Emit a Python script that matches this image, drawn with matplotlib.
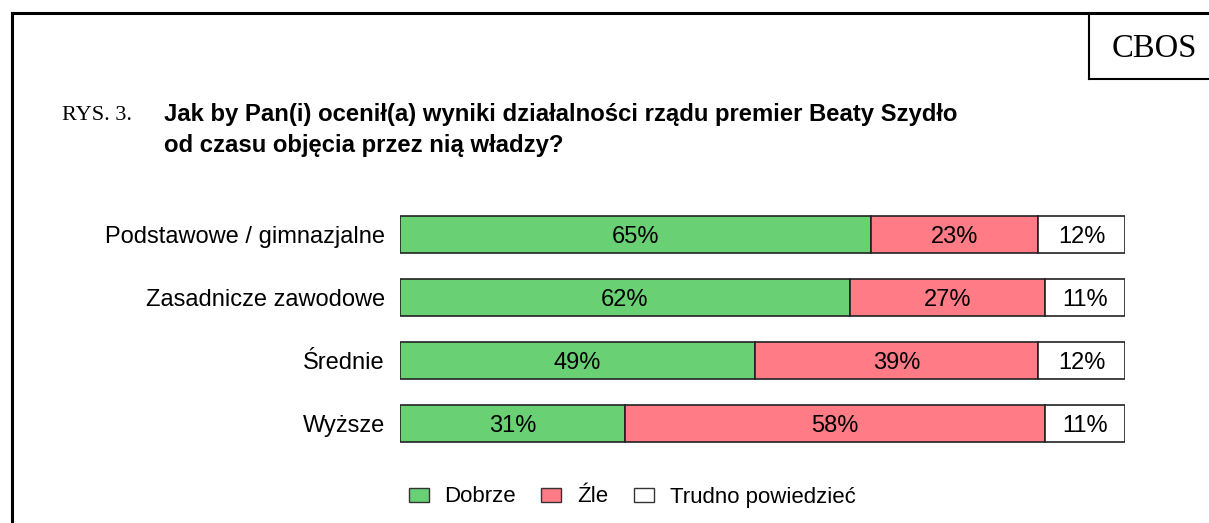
import matplotlib.pyplot as plt
from matplotlib.patches import Patch
from matplotlib.lines import Line2D
import numpy as np

categories = ['Podstawowe / gimnazjalne', 'Zasadnicze zawodowe', 'Średnie', 'Wyższe']
dobrze = [65, 62, 49, 31]
zle = [23, 27, 39, 58]
trudno = [12, 11, 12, 11]
series_names = ['Dobrze', 'Źle', 'Trudno powiedzieć']
colors = ['#69D174', '#FF7B86', '#FFFFFF']

W, H = 1209, 523
fig = plt.figure(figsize=(W / 100, H / 100), dpi=100)
sans = 'Liberation Sans'
serif = 'Liberation Serif'
fs = 17

# axes placed in pixel terms
ax = fig.add_axes([400 / W, 1 - 455 / H, 725 / W, 252 / H])
y = np.arange(len(categories))
left = np.zeros(len(categories))
for vals, col in zip([dobrze, zle, trudno], colors):
    bars = ax.barh(y, vals, left=left, height=0.587, color=col,
                   edgecolor='#222222', linewidth=1.2)
    for b, v in zip(bars, vals):
        ax.text(b.get_x() + b.get_width() / 2, b.get_y() + b.get_height() / 2,
                f'{v}%', ha='center', va='center_baseline', fontsize=fs, family=sans)
    left += np.array(vals)

ax.set_xlim(0, 100)
ax.set_ylim(3.5, -0.5)
ax.set_yticks(y)
ax.set_yticklabels(categories, fontsize=fs, family=sans, va='center_baseline')
ax.tick_params(axis='y', length=0, pad=11)
ax.set_xticks([])
for s in ax.spines.values():
    s.set_visible(False)

# frame lines
fig.add_artist(Line2D([12 / W, 12 / W], [0, 1 - 13 / H], color='black', lw=2.2))
fig.add_artist(Line2D([12 / W, 1], [1 - 13 / H, 1 - 13 / H], color='black', lw=2.2))
fig.add_artist(Line2D([1089 / W, 1089 / W], [1 - 13 / H, 1 - 79 / H], color='black', lw=1.5))
fig.add_artist(Line2D([1089 / W, 1], [1 - 79 / H, 1 - 79 / H], color='black', lw=1.5))
fig.text(1154 / W, 1 - 45 / H, 'CBOS', ha='center', va='center_baseline', fontsize=23.5, family=serif)

# title
fig.text(62 / W, 1 - 113 / H, 'RYS. 3.', ha='left', va='center_baseline', fontsize=16, family=serif)
fig.text(164 / W, 1 - 112 / H, 'Jak by Pan(i) ocenił(a) wyniki działalności rządu premier Beaty Szydło',
         ha='left', va='center_baseline', fontsize=17.2, family=sans, weight='bold')
fig.text(164 / W, 1 - 143 / H, 'od czasu objęcia przez nią władzy?',
         ha='left', va='center_baseline', fontsize=17.2, family=sans, weight='bold')

lfs = 16
handles = [Patch(facecolor=c, edgecolor='#333333', linewidth=1) for c in colors]
fig.legend(handles, series_names, loc='center', bbox_to_anchor=(632 / W, 1 - 497 / H),
           ncol=3, frameon=False, prop={'family': sans, 'size': lfs},
           handlelength=0.9, handleheight=0.59, handletextpad=0.72, columnspacing=1.13)

fig.savefig('out.png', dpi=100)
